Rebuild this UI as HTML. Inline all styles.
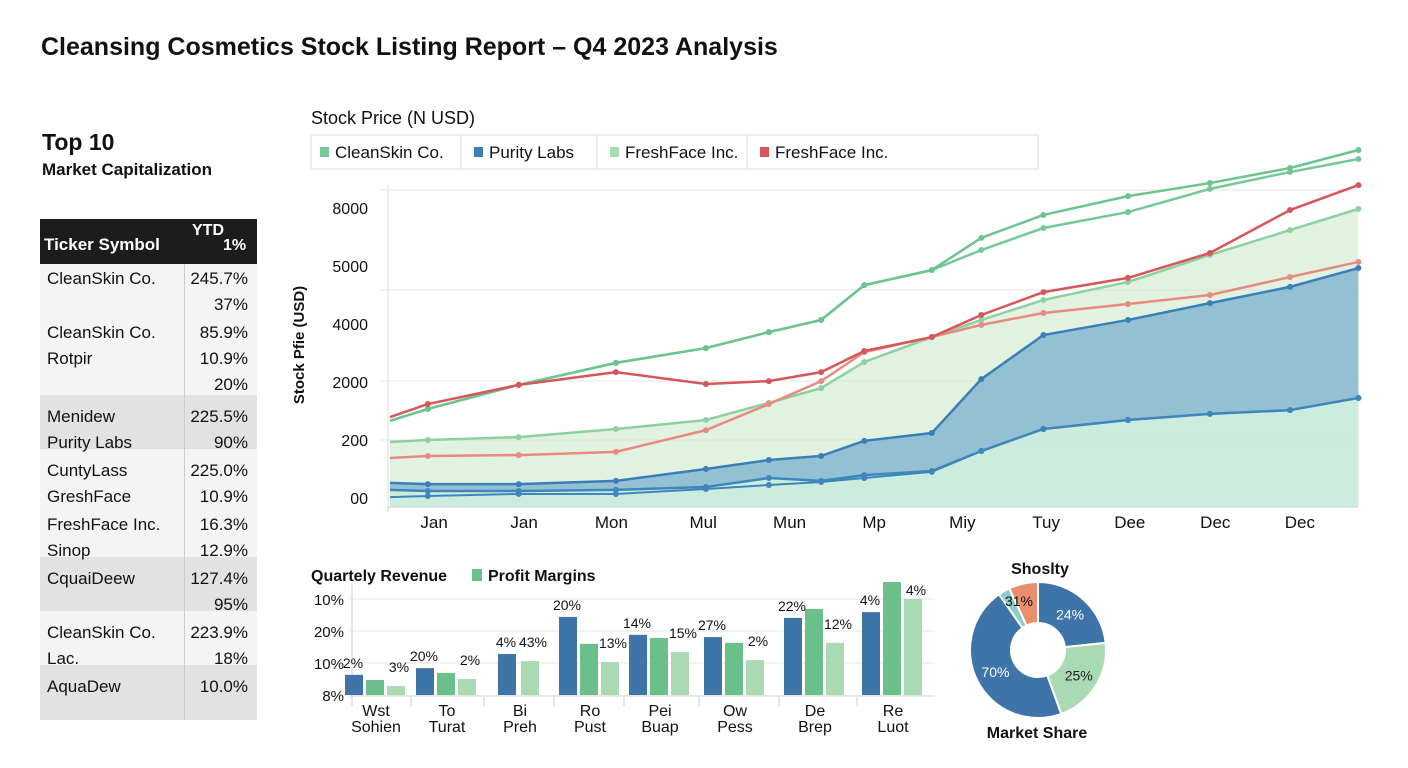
<!DOCTYPE html>
<html><head><meta charset="utf-8"><style>
body{margin:0;width:1408px;height:768px;background:#fff;font-family:"Liberation Sans",Arial,sans-serif;position:relative;overflow:hidden;color:#111}
.abs{position:absolute}
.t{position:absolute;font-size:17px;white-space:nowrap}
</style></head><body>
<div class="abs" style="left:41px;top:33px;font-size:25px;font-weight:bold">Cleansing Cosmetics Stock Listing Report – Q4 2023 Analysis</div>
<div class="abs" style="left:42px;top:129px;font-size:23px;font-weight:bold">Top 10</div>
<div class="abs" style="left:42px;top:160px;font-size:17px;font-weight:bold">Market Capitalization</div>
<div id="tbl" class="abs" style="left:40px;top:219px;width:217px;height:501px;background:#f4f4f4">
 <div class="abs" style="left:0;top:0;width:217px;height:45px;background:#1c1c1c;color:#fff;font-weight:bold">
  <div class="t" style="left:4px;top:16px;font-size:17px">Ticker Symbol</div>
  <div class="t" style="left:152px;top:3px;font-size:16px">YTD</div>
  <div class="t" style="left:183px;top:18px;font-size:16px">1%</div>
 </div>
 <div class="abs" style="left:0;top:176px;width:217px;height:54px;background:#e2e2e2"></div>
 <div class="abs" style="left:0;top:338px;width:217px;height:54px;background:#e2e2e2"></div>
 <div class="abs" style="left:0;top:446px;width:217px;height:55px;background:#e2e2e2"></div>
 <div class="abs" style="left:144px;top:45px;width:1px;height:456px;background:#ccc"></div>
</div>
<svg id="main" class="abs" style="left:0;top:0" width="1408" height="768"></svg>
<script>
const NS="http://www.w3.org/2000/svg";
const svg=document.getElementById('main');
function mk(tag,attrs,parent){const e=document.createElementNS(NS,tag);for(const k in attrs)e.setAttribute(k,attrs[k]);(parent||svg).appendChild(e);return e;}
function txt(x,y,s,size,anchor,weight,fill){const e=mk('text',{x:x,y:y,'font-size':size,'text-anchor':anchor||'start','font-weight':weight||'normal',fill:fill||'#111','font-family':'Liberation Sans, Arial, sans-serif'});e.textContent=s;return e;}

// ---- table data ----
const tickerNames=[["CleanSkin Co.",""],["CleanSkin Co.","Rotpir",""],["Menidew","Purity Labs"],["CuntyLass","GreshFace"],["FreshFace Inc.","Sinop"],["CquaiDeew",""],["CleanSkin Co.","Lac."],["AquaDew"]];
const tickerYtd=[["245.7%","37%"],["85.9%","10.9%","20%"],["225.5%","90%"],["225.0%","10.9%"],["16.3%","12.9%"],["127.4%","95%"],["223.9%","18%"],["10.0%"]];
(function(){let y=284;
for(let g=0;g<tickerNames.length;g++){const n=Math.max(tickerNames[g].length,tickerYtd[g].length);
 for(let i=0;i<n;i++){const ty=y+i*26;
  if(tickerNames[g][i]){const e=txt(47,ty,tickerNames[g][i],17);}
  if(tickerYtd[g][i]){const e=txt(248,ty,tickerYtd[g][i],17,'end');}
 }
 y+= (n===3?84:54);
}})();

// ---- main line chart data ----
const monthT=[0,0.42,1.43,2.51,3.51,4.21,4.79,5.27,6.02,6.57,7.26,8.2,9.11,10,10.76];
const xTickPos=[0.49,1.49,2.46,3.48,4.44,5.38,6.36,7.29,8.22,9.17,10.11];
const xTickLabels=["Jan","Jan","Mon","Mul","Mun","Mp","Miy","Tuy","Dee","Dec","Dec"];
const yTickVals=[0,2,4,6,8,10];
const yTickLabels=["00","200","2000","4000","5000","8000"];
const cleanSkinA=[2.66,3.07,3.90,4.66,5.17,5.72,6.14,7.34,7.86,8.97,9.76,10.41,10.86,11.38,12.0];
const cleanSkinB=[2.66,3.07,3.90,4.66,5.17,5.72,6.14,7.34,7.86,8.55,9.31,9.86,10.66,11.24,11.69];
const freshLight=[1.93,2.0,2.10,2.38,2.69,3.28,3.79,4.69,5.55,6.14,6.83,7.45,8.38,9.24,9.97];
const freshRedA=[2.79,3.24,3.90,4.34,3.93,4.03,4.34,5.07,5.55,6.31,7.10,7.59,8.45,9.93,10.79];
const freshRedB=[1.38,1.45,1.48,1.59,2.34,3.24,4.03,5.03,5.55,5.97,6.38,6.69,7.0,7.62,8.14];
const purityA=[0.52,0.48,0.48,0.59,1.0,1.31,1.45,1.97,2.24,4.10,5.62,6.14,6.72,7.28,7.93];
const purityB=[0.28,0.24,0.24,0.28,0.38,0.69,0.59,0.79,0.93,1.62,2.38,2.69,2.90,3.03,3.45];
const purityC=[0.03,0.07,0.14,0.14,0.31,0.45,0.55,0.69,0.90,1.62,2.38,2.69,2.90,3.03,3.45];

const X=t=>390+t*90.0;
const Y=v=>498-v*29;
// grid
[190,290,381,440].forEach(gy=>{const l=mk('line',{x1:380,x2:1358,y1:gy,y2:gy,stroke:'#e4e4e4','stroke-width':1});});
mk('line',{x1:388,x2:388,y1:185,y2:512,stroke:'#ddd'});
mk('line',{x1:388,x2:1358,y1:507,y2:507,stroke:'#ccc'});
function pts(arr){return arr.map((v,i)=>X(monthT[i])+','+Y(v)).join(' ');}
function area(top,bot,fill,name){const p=top.map((v,i)=>X(monthT[i])+','+Y(v)).concat(bot.map((v,i)=>[X(monthT[i]),Y(v)]).reverse().map(a=>a.join(','))).join(' ');
 const e=mk('polygon',{points:p,fill:fill});}
const zero=monthT.map(()=>-0.3);
area(freshLight,zero,'rgba(200,232,200,0.55)','freshface-area');
area(purityB,zero,'rgba(190,232,220,0.6)','purity-base-area');
area(purityA,purityB,'rgba(120,175,205,0.75)','purity-area');
function line(arr,color,name,w){const e=mk('polyline',{points:pts(arr),fill:'none',stroke:color,'stroke-width':w||2.5});
 arr.forEach((v,i)=>{if(i===0)return;const c=mk('circle',{cx:X(monthT[i]),cy:Y(v),r:3,fill:color});});}
line(freshLight,'#8fd0a0','freshface-light-line');
line(freshRedB,'#e88a80','freshface-red-light-line');
line(purityC,'#3f86bd','purity-line-c',2);
line(purityB,'#3f86bd','purity-line-b');
line(purityA,'#3b7fb8','purity-line-a');
line(cleanSkinB,'#74c996','cleanskin-line-b');
line(cleanSkinA,'#6cc48e','cleanskin-line-a');
line(freshRedA,'#d6565a','freshface-red-line');
yTickVals.forEach((v,i)=>{const e=txt(368,Y(v)+6,yTickLabels[i],16,'end');});
xTickPos.forEach((t,i)=>{const e=txt(X(t),528,xTickLabels[i],17,'middle');});
(function(){const e=txt(0,0,'Stock Pfie (USD)',15,'middle','bold');e.setAttribute('transform','translate(304,345) rotate(-90)');})();
(function(){const e=txt(311,124,'Stock Price (N USD)',18);})();
// legend
mk('rect',{x:311,y:135,width:727,height:34,fill:'#fff',stroke:'#ddd'});
const legendNames=["CleanSkin Co.","Purity Labs","FreshFace Inc.","FreshFace Inc."];
const legendColors=['#74c996','#3b7fb8','#a6dbb4','#d6565a'];
const legendX=[320,474,610,760];
legendNames.forEach((n,i)=>{const g=mk('g',{});
 mk('rect',{x:legendX[i],y:147,width:9,height:10,fill:legendColors[i]},g);
 const t=txt(legendX[i]+15,158,n,17);g.appendChild(t);
 if(i>0)mk('line',{x1:legendX[i]-13,x2:legendX[i]-13,y1:135,y2:169,stroke:'#ddd'},g);});

// ---- bar chart ----
const barCats1=["Wst","To","Bi","Ro","Pei","Ow","De","Re"];
const barCats2=["Sohien","Turat","Preh","Pust","Buap","Pess","Brep","Luot"];
const revenue=[6.3,8.4,12.8,24.4,18.8,18.1,24.1,25.9];
const profit=[4.7,6.9,0,16,17.8,16.3,26.9,35.3];
const margin=[2.8,5,10.6,10.3,13.4,10.9,16.3,30.0];
const revLabels=["2%","20%","4%","20%","14%","27%","22%","4%"];
const marLabels=["3%","2%","43%","13%","15%","2%","12%","4%"];
const barYLabels=["8%","10%","20%","10%"];
const barYVals=[0,10,20,30];
const BY=v=>695-v*3.2;
const catCenter=[376,447,520,590,660,735,815,893];
barYVals.forEach((v,i)=>{if(i>0){const l=mk('line',{x1:350,x2:935,y1:BY(v),y2:BY(v),stroke:'#e4e4e4'});}
 const e=txt(344,BY(v)+6,barYLabels[i],15,'end');});
mk('line',{x1:350,x2:935,y1:696,y2:696,stroke:'#ccc'});
mk('line',{x1:352,x2:352,y1:585,y2:706,stroke:'#ccc'});
const bw=18;
catCenter.forEach((c,i)=>{
 const series=[[revenue[i],'#3e74a8'],[profit[i],'#6bbf8a'],[margin[i],'#a9dab4']];
 const pr=profit[i]>0;
 const xs=pr?[c-31,c-10,c+11]:[c-22,null,c+1];
 series.forEach((s,j)=>{if(xs[j]===null||s[0]<=0)return;const r=mk('rect',{x:xs[j],y:BY(s[0]),width:bw,height:BY(0)-BY(s[0]),fill:s[1]});
  });
 const a=txt(xs[0]+8,BY(revenue[i])-7,revLabels[i],14,'middle');
 const b=txt(xs[2]+12,BY(Math.max(margin[i],pr?0:0))-(i===7?-4:14)+ (i===7?-70:0),marLabels[i],14,'middle');
 if(i===7){b.setAttribute('y',BY(margin[i])-4);}
 const c1=txt(c,716,barCats1[i],16,'middle');
 const c2=txt(c,732,barCats2[i],16,'middle');
 if(i>0){mk('line',{x1:c-36,x2:c-36,y1:697,y2:706,stroke:'#ccc'});}
});
(function(){const e=txt(311,581,'Quartely Revenue',16,'start','bold');
 mk('rect',{x:472,y:569,width:10,height:12,fill:'#6bbf8a'});
 const f=txt(488,581,'Profit Margins',16,'start','bold');})();

// ---- donut ----
const shareVals=[84,76,165,10,25];
const shareLabels=["24%","25%","70%","",""];
const shareColors=['#3e74a8','#a9dab4','#3e74a8','#8fc9c9','#e8906e'];
const cx=1038,cy=650,R=68,r0=27;
(function(){const tot=shareVals.reduce((a,b)=>a+b,0);let a0=-90;
shareVals.forEach((v,i)=>{const a1=a0+v/tot*360;const rad=d=>d*Math.PI/180;
 const p=(rr,d)=>[cx+rr*Math.cos(rad(d)),cy+rr*Math.sin(rad(d))];
 const lg=(a1-a0)>180?1:0;const [x1,y1]=p(R,a0),[x2,y2]=p(R,a1),[x3,y3]=p(r0,a1),[x4,y4]=p(r0,a0);
 const s=mk('path',{d:`M${x1},${y1}A${R},${R} 0 ${lg} 1 ${x2},${y2}L${x3},${y3}A${r0},${r0} 0 ${lg} 0 ${x4},${y4}Z`,fill:shareColors[i],stroke:'#fff','stroke-width':2});
 
 if(shareLabels[i]){const m=(a0+a1)/2;const [lx,ly]=p(48,m);const t=txt(lx,ly+5,shareLabels[i],14,'middle','normal',i===1?'#222':'#fff');}
 a0=a1;});
const t=txt(1019,606,'31%',14,'middle');
const a=txt(1040,574,'Shoslty',16,'middle','bold');
const b=txt(1037,738,'Market Share',16,'middle','bold');})();
</script>
</body></html>
